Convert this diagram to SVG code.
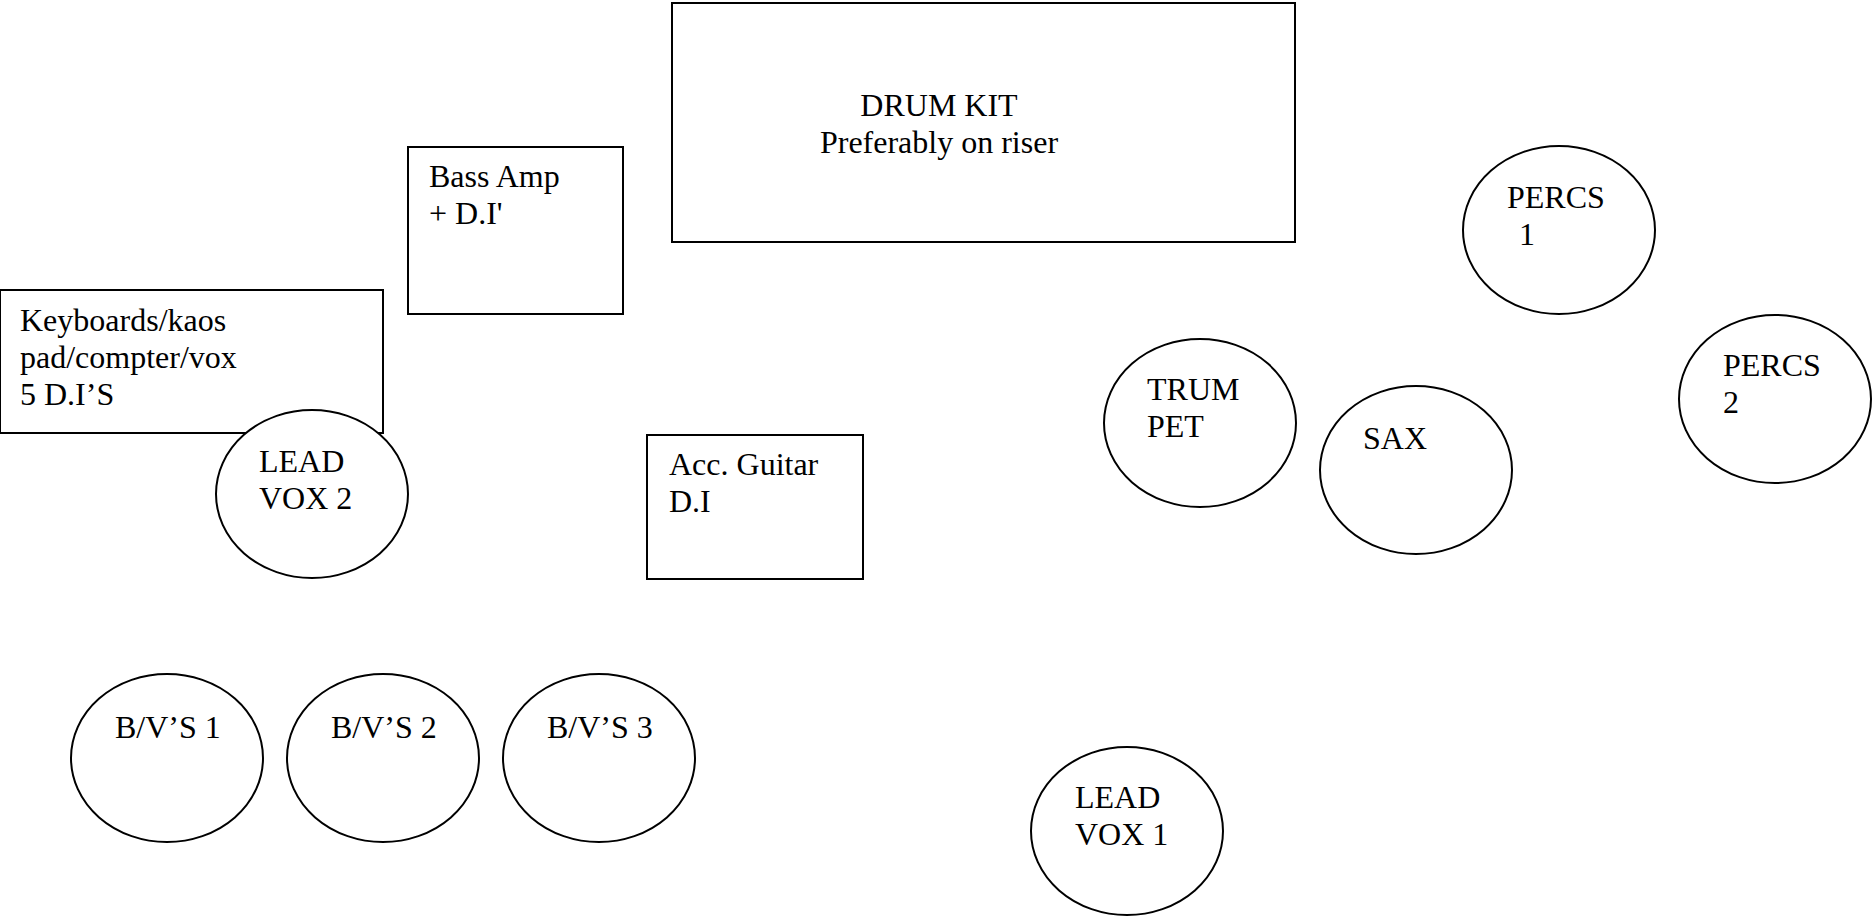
<svg xmlns="http://www.w3.org/2000/svg" width="1872" height="917" viewBox="0 0 1872 917">
<style>
.s{fill:#fff;stroke:#000;stroke-width:2}
text{font-family:"Liberation Serif","Times New Roman",serif;font-size:32px;fill:#000}
</style>
<rect width="1872" height="917" fill="#fff"/>
<g id="connectors"/>
<g id="drum-kit"><rect class="s" x="672" y="3" width="623" height="239"/><text x="939" y="116" text-anchor="middle">DRUM KIT</text><text x="939" y="153" text-anchor="middle">Preferably on riser</text></g>
<g id="bass-amp"><rect class="s" x="408" y="147" width="215" height="167"/><text x="429" y="187">Bass Amp</text><text x="429" y="224">+ D.I'</text></g>
<g id="keyboards"><rect class="s" x="0" y="290" width="383" height="143"/><text x="20" y="331">Keyboards/kaos</text><text x="20" y="368">pad/compter/vox</text><text x="20" y="405">5 D.I’S</text></g>
<g id="lead-vox-2"><ellipse class="s" cx="312" cy="494" rx="96" ry="84"/><text x="259" y="472">LEAD</text><text x="259" y="509">VOX 2</text></g>
<g id="acc-guitar"><rect class="s" x="647" y="435" width="216" height="144"/><text x="669" y="475">Acc. Guitar</text><text x="669" y="512">D.I</text></g>
<g id="bvs-1"><ellipse class="s" cx="167" cy="758" rx="96" ry="84"/><text x="115" y="738">B/V’S 1</text></g>
<g id="bvs-2"><ellipse class="s" cx="383" cy="758" rx="96" ry="84"/><text x="331" y="738">B/V’S 2</text></g>
<g id="bvs-3"><ellipse class="s" cx="599" cy="758" rx="96" ry="84"/><text x="547" y="738">B/V’S 3</text></g>
<g id="lead-vox-1"><ellipse class="s" cx="1127" cy="831" rx="96" ry="84"/><text x="1075" y="808">LEAD</text><text x="1075" y="845">VOX 1</text></g>
<g id="trumpet"><ellipse class="s" cx="1200" cy="423" rx="96" ry="84"/><text x="1147" y="400">TRUM</text><text x="1147" y="437">PET</text></g>
<g id="sax"><ellipse class="s" cx="1416" cy="470" rx="96" ry="84"/><text x="1363" y="449">SAX</text></g>
<g id="percs-1"><ellipse class="s" cx="1559" cy="230" rx="96" ry="84"/><text x="1507" y="208">PERCS</text><text x="1519" y="245">1</text></g>
<g id="percs-2"><ellipse class="s" cx="1775" cy="399" rx="96" ry="84"/><text x="1723" y="376">PERCS</text><text x="1723" y="413">2</text></g>
</svg>
